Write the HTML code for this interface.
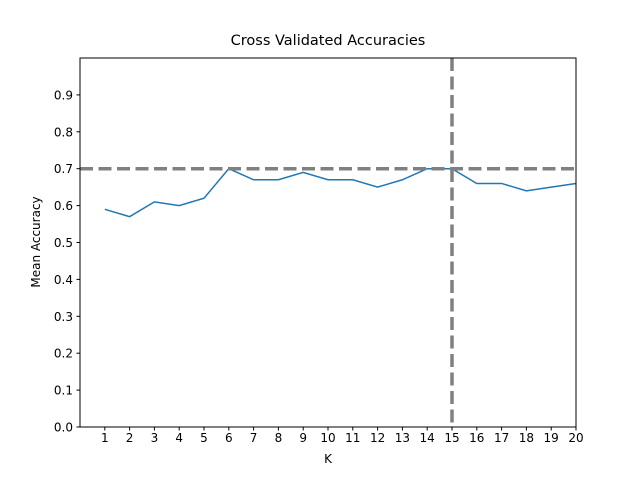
<!DOCTYPE html>
<html><head><meta charset="utf-8"><style>
body{margin:0;background:#fff;}
svg text{font-family:"DejaVu Sans","Liberation Sans",sans-serif;fill:#000;}
</style></head><body>
<svg id="chart" width="640" height="480" xmlns="http://www.w3.org/2000/svg">
<rect width="640" height="480" fill="#fff"/>
<text x="328" y="45" font-size="14.5" text-anchor="middle">Cross Validated Accuracies</text>
<text x="328" y="463" font-size="12" text-anchor="middle">K</text>
<text transform="translate(40,242) rotate(-90)" font-size="12" text-anchor="middle">Mean Accuracy</text>
<g id="ticks"></g>
<g id="plot"></g>
<rect x="80" y="58" width="496" height="369" fill="none" stroke="#000" stroke-width="1"/>
</svg>
<script>
const kValues=[1,2,3,4,5,6,7,8,9,10,11,12,13,14,15,16,17,18,19,20];
const accuracies=[0.59,0.57,0.61,0.60,0.62,0.70,0.67,0.67,0.69,0.67,0.67,0.65,0.67,0.70,0.70,0.66,0.66,0.64,0.65,0.66];
const yTicks=[0,0.1,0.2,0.3,0.4,0.5,0.6,0.7,0.8,0.9];
const bestAccuracy=0.70;
const bestK=15;
const X0=80,X1=576,Y0=427,Y1=58;
const xs=v=>X0+(v-0)/(20-0)*(X1-X0);
const ys=v=>Y0-(v-0)/(1-0)*(Y0-Y1);
const NS="http://www.w3.org/2000/svg";
const ticks=document.getElementById('ticks'),plot=document.getElementById('plot');
function mk(t,a,p){const e=document.createElementNS(NS,t);for(const k in a)e.setAttribute(k,a[k]);p.appendChild(e);return e;}
kValues.forEach(k=>{
  const l=mk('line',{x1:xs(k),x2:xs(k),y1:Y0,y2:Y0+3.5,stroke:'#000'},ticks);
  
  
  const t=mk('text',{x:xs(k),y:Y0+15,'font-size':12,'text-anchor':'middle'},ticks);
  t.textContent=k;
  
  
});
yTicks.forEach(v=>{
  const l=mk('line',{x1:X0-3.5,x2:X0,y1:ys(v),y2:ys(v),stroke:'#000'},ticks);
  
  
  const t=mk('text',{x:X0-7,y:ys(v)+4.5,'font-size':12,'text-anchor':'end'},ticks);
  t.textContent=v.toFixed(1);
  
  
});
const pts=kValues.map((k,i)=>xs(k)+','+ys(accuracies[i])).join(' ');
const pl=mk('polyline',{points:pts,fill:'none',stroke:'#1f77b4','stroke-width':1.5},plot);


const h=mk('line',{x1:X0,x2:X1,y1:ys(bestAccuracy),y2:ys(bestAccuracy),stroke:'#808080','stroke-width':3.5,'stroke-dasharray':'13,5.5'},plot);


const v=mk('line',{x1:xs(bestK),x2:xs(bestK),y1:Y1,y2:Y0,stroke:'#808080','stroke-width':3.5,'stroke-dasharray':'13,5.5'},plot);


</script>
</body></html>
